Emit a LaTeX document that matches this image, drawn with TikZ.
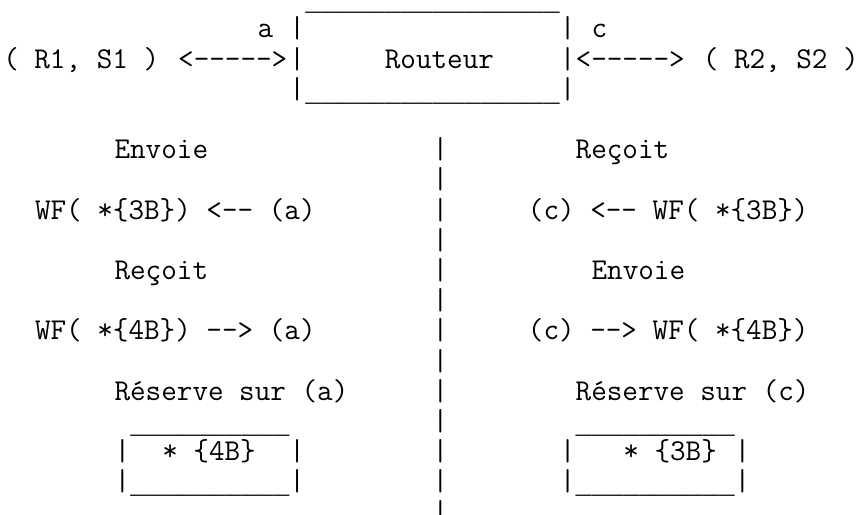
\documentclass[tikz,border=0pt]{standalone}
\usepackage{fontspec}
\newfontfamily\rulefont{Liberation Mono}
\frenchspacing
\begin{document}
\begin{tikzpicture}[x=11.925pt,y=-22.65pt,
  txt/.style={font=\fontsize{22.7pt}{24pt}\selectfont\ttfamily,anchor=base west,inner sep=0pt,text=black},
  rule/.style={txt,font=\fontsize{19.875pt}{24pt}\selectfont\rulefont}]
\useasboundingbox (-0.1887,-0.2517) rectangle (54.088,16.801);
% routeur box and its two links
\node[rule] (boxtop) at (19,0.1) {\_\_\_\_\_\_\_\_\_\_\_\_\_\_\_\_};
\node[txt] (lblA) at (16,1) {a};
\node[txt] (boxL1) at (18,1) {|};
\node[txt] (boxR1) at (35,1) {|};
\node[txt] (lblC) at (37,1) {c};
\node[txt] (hostA) at (0,2) {( R1, S1 )};
\node[txt] (linkA) at (11,2) {<-{}-{}-{}-{}->};
\node[txt] (boxL2) at (18,2) {|};
\node[txt] (routeur) at (24,2) {Routeur};
\node[txt] (boxR2) at (35,2) {|};
\node[txt] (linkC) at (36,2) {<-{}-{}-{}-{}->};
\node[txt] (hostC) at (44,2) {( R2, S2 )};
\node[txt] (boxL3) at (18,3) {|};
\node[rule] (boxbot) at (19,3.1) {\_\_\_\_\_\_\_\_\_\_\_\_\_\_\_\_};
\node[txt] (boxR3) at (35,3) {|};
% separator
\foreach \n in {5,...,17}
  \node[txt] (sep\n) at (27,\n) {|};
% side (a)
\node[txt] (envA) at (7,5) {Envoie};
\node[txt] (wfA3) at (2,7) {WF( *\{3B\}) <-{}- (a)};
\node[txt] (recA) at (7,9) {Reçoit};
\node[txt] (wfA4) at (2,11) {WF( *\{4B\}) -{}-> (a)};
\node[txt] (resA) at (7,13) {Réserve sur (a)};
\node[rule] (tabAtop) at (8,14.1) {\_\_\_\_\_\_\_\_\_\_};
\node[txt] (tabAL) at (7,15) {|};
\node[txt] (tabA) at (10,15) {* \{4B\}};
\node[txt] (tabAR) at (18,15) {|};
\node[txt] (tabAbL) at (7,16) {|};
\node[rule] (tabAbot) at (8,16.1) {\_\_\_\_\_\_\_\_\_\_};
\node[txt] (tabAbR) at (18,16) {|};
% side (c)
\node[txt] (recC) at (36,5) {Reçoit};
\node[txt] (wfC3) at (33,7) {(c) <-{}- WF( *\{3B\})};
\node[txt] (envC) at (37,9) {Envoie};
\node[txt] (wfC4) at (33,11) {(c) -{}-> WF( *\{4B\})};
\node[txt] (resC) at (36,13) {Réserve sur (c)};
\node[rule] (tabCtop) at (36,14.1) {\_\_\_\_\_\_\_\_\_\_};
\node[txt] (tabCL) at (35,15) {|};
\node[txt] (tabC) at (39,15) {* \{3B\}};
\node[txt] (tabCR) at (46,15) {|};
\node[txt] (tabCbL) at (35,16) {|};
\node[rule] (tabCbot) at (36,16.1) {\_\_\_\_\_\_\_\_\_\_};
\node[txt] (tabCbR) at (46,16) {|};
\end{tikzpicture}
\end{document}
